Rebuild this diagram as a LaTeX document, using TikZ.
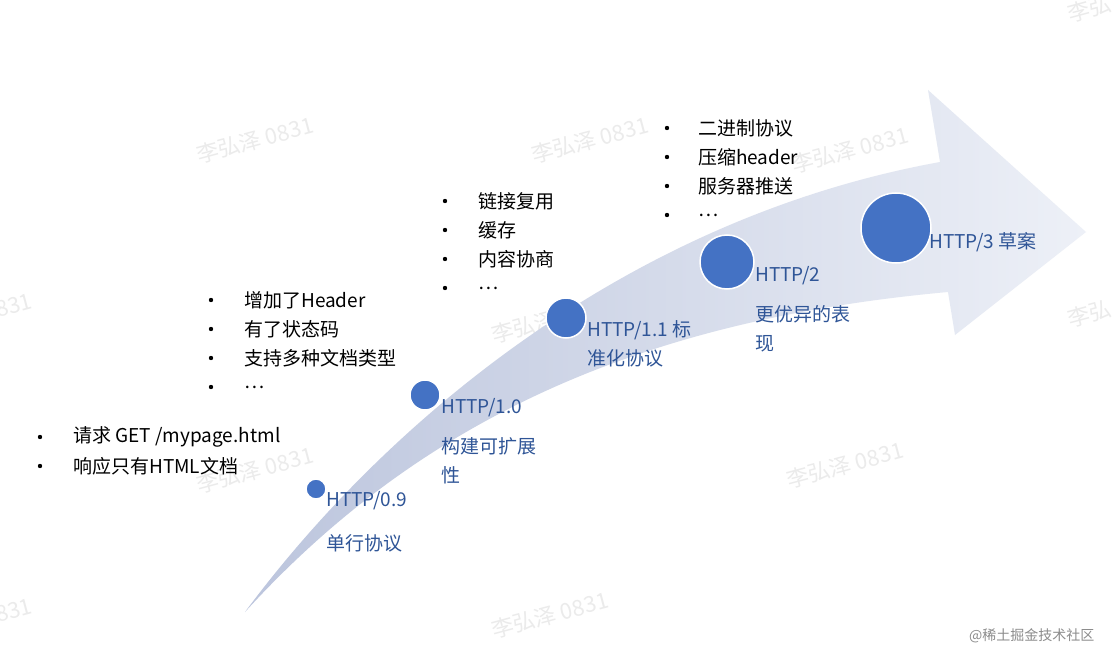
\documentclass[tikz,border=0pt]{standalone}
\usepackage{fontspec}
\setmainfont{Noto Sans CJK SC}
\begin{document}
\begin{tikzpicture}[x=1pt,y=-1pt,
  dot/.style={circle,fill=circ,draw=white,line width=1.5pt,inner sep=0pt},
  lab/.style={anchor=west,inner sep=0pt,text=labc,font=\fontsize{19}{29}\selectfont,align=left},
  bl/.style={anchor=west,inner sep=0pt,font=\fontsize{19}{29}\selectfont,align=left},
  wm/.style={text=black!8,font=\fontsize{22}{22}\selectfont,rotate=15}]
\definecolor{circ}{HTML}{4472C4}
\definecolor{labc}{HTML}{2F5597}
\definecolor{arl}{HTML}{BCC5DD}
\definecolor{arr}{HTML}{EDF0F7}
\useasboundingbox (0,0) rectangle (1112,666);
\fill[white] (0,0) rectangle (1112,666);
% watermarks
\node[wm] (w1) at (255,140) {李弘泽 0831};
\node[wm] (w2) at (590,140) {李弘泽 0831};
\node[wm] (w3) at (850,150) {李弘泽 0831};
\node[wm] (w4) at (550,320) {李弘泽 0831};
\node[wm] (w5) at (255,470) {李弘泽 0831};
\node[wm] (w6) at (845,465) {李弘泽 0831};
\node[wm] (w7) at (550,615) {李弘泽 0831};
\node[wm,anchor=west] (w8) at (1065,15) {李弘};
\node[wm,anchor=west] (w9) at (1065,320) {李弘};
\node[wm,anchor=east] (w10) at (35,300) {0831};
\node[wm,anchor=east] (w11) at (35,605) {0831};
% arrow
\shade[left color=arl,right color=arr]
  (245,612) .. controls (380,430) and (620,220) .. (940,162)
  -- (928,90) -- (1086,232) -- (955,335) -- (948,292)
  .. controls (640,320) and (420,420) .. cycle;
% circles
\node[dot,minimum size=20pt] (c1) at (316,489) {};
\node[dot,minimum size=30pt] (c2) at (425,395) {};
\node[dot,minimum size=40pt] (c3) at (566,318) {};
\node[dot,minimum size=54pt] (c4) at (727,262) {};
\node[dot,minimum size=70pt] (c5) at (896,228) {};
% labels
\node[lab] (l1) at (326,501) {HTTP/0.9};
\node[lab] (l1b) at (326,543) {单行协议};
\node[lab] (l2) at (441,408) {HTTP/1.0};
\node[lab,anchor=north west] (l2b) at (441,437) {构建可扩展\\性};
\node[lab,anchor=north west] (l3) at (587,320) {HTTP/1.1 标\\准化协议};
\node[lab] (l4) at (755,276) {HTTP/2};
\node[lab,anchor=north west] (l4b) at (755,305) {更优异的表\\现};
\node[lab] (l5) at (929,242) {HTTP/3 草案};
% bullets
\foreach \t [count=\i] in {请求 GET /mypage.html,响应只有HTML文档}
  {\node[bl] (a\i) at (73,437+29*\i-29) {\t}; \fill (40,437+29*\i-29) circle (2.2);}
\foreach \t [count=\i] in {增加了Header,有了状态码,支持多种文档类型,…}
  {\node[bl] (b\i) at (244,300+29*\i-29) {\t}; \fill (211,300+29*\i-29) circle (2.2);}
\foreach \t [count=\i] in {链接复用,缓存,内容协商,…}
  {\node[bl] (d\i) at (478,201+29*\i-29) {\t}; \fill (445,201+29*\i-29) circle (2.2);}
\foreach \t [count=\i] in {二进制协议,压缩header,服务器推送,…}
  {\node[bl] (e\i) at (698,128+29*\i-29) {\t}; \fill (667,128+29*\i-29) circle (2.2);}
\node[anchor=east,text=black!45,font=\fontsize{14}{14}\selectfont] (wm) at (1098,636) {@稀土掘金技术社区};
\end{tikzpicture}
\end{document}
